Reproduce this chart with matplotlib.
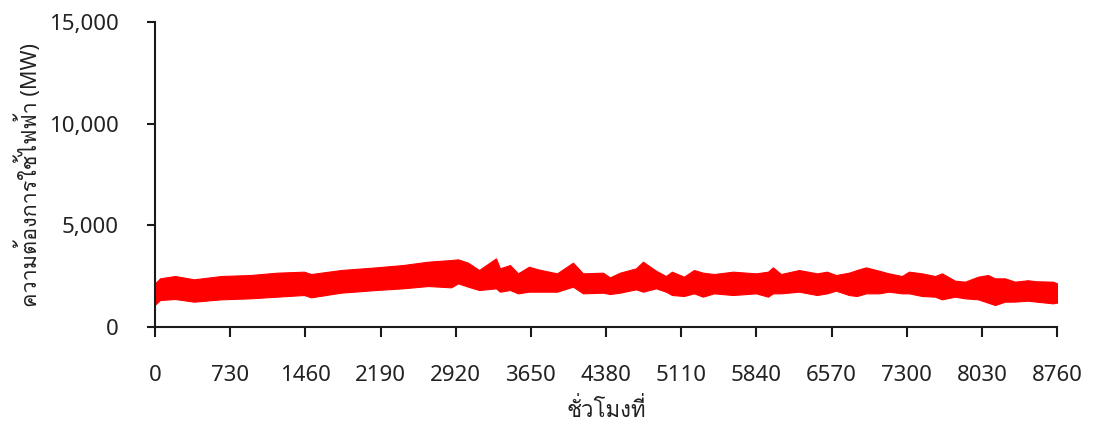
import matplotlib
matplotlib.use("Agg")
import matplotlib.pyplot as plt
from matplotlib.ticker import FuncFormatter

# Hourly demand band: upper/lower envelope of the load (MW) at sampled hours
hours = [0, 49, 194, 379, 641, 923, 1185, 1447, 1515, 1806, 2147, 2409,
         2652, 2875, 2943, 3040, 3147, 3311, 3350, 3447, 3525, 3632,
         3719, 3904, 4059, 4156, 4350, 4418, 4515, 4671, 4739, 4865,
         4962, 5020, 5136, 5234, 5321, 5428, 5613, 5836, 5953, 6001,
         6079, 6254, 6429, 6526, 6613, 6739, 6817, 6904, 7031, 7127,
         7254, 7322, 7449, 7575, 7643, 7769, 7867, 7993, 8090, 8158,
         8255, 8352, 8477, 8556, 8720, 8760]
upper = [2150, 2395, 2508, 2346, 2508, 2557, 2672, 2721, 2606, 2803, 2934,
         3049, 3213, 3295, 3328, 3164, 2803, 3377, 2885, 3049, 2639, 2967,
         2836, 2639, 3164, 2639, 2672, 2442, 2672, 2885, 3213, 2770, 2508,
         2721, 2475, 2803, 2672, 2606, 2721, 2639, 2721, 2934, 2606, 2803,
         2639, 2721, 2557, 2672, 2803, 2934, 2770, 2639, 2508, 2721, 2639,
         2508, 2639, 2279, 2230, 2475, 2557, 2393, 2393, 2230, 2300, 2250,
         2230, 2150]
lower = [1100, 1328, 1377, 1246, 1361, 1410, 1492, 1574, 1459, 1689, 1820,
         1902, 2016, 1951, 2147, 1984, 1820, 1902, 1738, 1820, 1656, 1738,
         1738, 1738, 1984, 1656, 1689, 1623, 1689, 1853, 1738, 1902, 1738,
         1574, 1525, 1656, 1492, 1656, 1574, 1656, 1492, 1656, 1656, 1738,
         1574, 1656, 1787, 1574, 1525, 1656, 1656, 1738, 1656, 1656, 1525,
         1492, 1361, 1492, 1410, 1361, 1197, 1082, 1246, 1250, 1295, 1250,
         1164, 1200]

x_ticks = list(range(0, 8761, 730))
y_ticks = [0, 5000, 10000, 15000]
x_label = "ชั่วโมงที่"
y_label = "ความต้องการใช้ไฟฟ้า (MW)"

plt.rcParams["font.family"] = ["Noto Sans", "Loma", "DejaVu Sans"]

fig = plt.figure(figsize=(10.95, 4.30), dpi=100)
ax = fig.add_axes([0.1416, 0.2395, 0.8237, 0.7093])

ax.fill_between(hours, lower, upper, color="#ff0000", linewidth=0.8,
                edgecolor="#ff0000")

ax.set_xlim(0, 8760)
ax.set_ylim(0, 15000)
ax.set_xticks(x_ticks)
ax.set_yticks(y_ticks)
ax.yaxis.set_major_formatter(FuncFormatter(lambda v, p: f"{int(v):,}"))

for side in ("top", "right"):
    ax.spines[side].set_visible(False)
for side in ("left", "bottom"):
    ax.spines[side].set_linewidth(1.5)
    ax.spines[side].set_color("#1a1a1a")

ax.tick_params(axis="x", direction="out", length=7, width=1.5,
               color="#1a1a1a", pad=20, labelsize=16, labelcolor="#222222")
ax.tick_params(axis="y", direction="out", length=6, width=1.5,
               color="#1a1a1a", pad=20, labelsize=16, labelcolor="#222222")
for lbl in ax.get_xticklabels() + ax.get_yticklabels():
    lbl.set_fontweight("light")

ax.set_xlabel(x_label, fontsize=16, color="#222222", labelpad=9)
ax.set_ylabel(y_label, fontsize=15.5, color="#222222", labelpad=5)

fig.savefig("out.png", dpi=100)
